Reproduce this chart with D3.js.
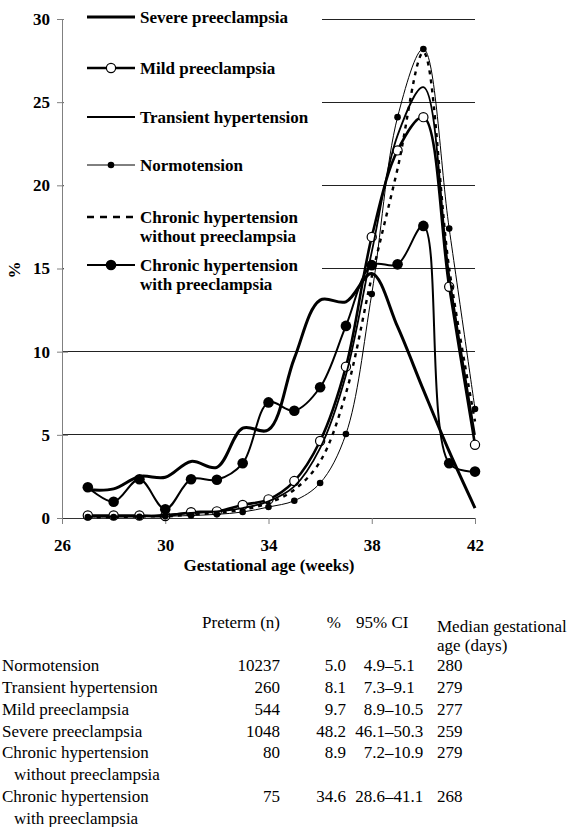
<!DOCTYPE html>
<html>
<head>
<meta charset="utf-8">
<script src="https://cdnjs.cloudflare.com/ajax/libs/d3/7.8.5/d3.min.js"></script>
<style>
	body { margin: 0; background: #fff; }
	svg text { font-family: "Liberation Serif", "Times New Roman", serif; }
</style>
</head>
<body>
<svg id="chart" width="573" height="827"></svg>
<script>
// gestational weeks on the x axis
const weeks = [27, 28, 29, 30, 31, 32, 33, 34, 35, 36, 37, 38, 39, 40, 41, 42];

// % of births per week
const severe = [1.7, 1.75, 2.5, 2.45, 3.4, 3.05, 5.4, 5.3, 9.6, 13.1, 13.0, 14.7, 11.5, 7.7, 4.0, 0.6];
const mild = [0.15, 0.15, 0.15, 0.12, 0.35, 0.4, 0.78, 1.12, 2.22, 4.63, 9.1, 16.9, 22.1, 24.1, 13.9, 4.4];
const transient = [0.1, 0.1, 0.1, 0.2, 0.3, 0.4, 0.6, 1.0, 1.9, 4.2, 8.6, 16.0, 23.0, 25.9, 14.6, 5.0];
const normotension = [0.05, 0.06, 0.07, 0.1, 0.15, 0.22, 0.36, 0.66, 1.04, 2.1, 5.05, 13.47, 24.1, 28.2, 17.4, 6.55];
const chronicWithout = [0.05, 0.05, 0.1, 0.1, 0.2, 0.3, 0.5, 0.9, 1.7, 3.4, 7.5, 14.5, 21.0, 28.0, 15.0, 5.8];
const chronicWith = [1.85, 0.98, 2.33, 0.53, 2.33, 2.3, 3.29, 6.95, 6.45, 7.86, 11.55, 15.2, 15.25, 17.56, 3.29, 2.79];

const xTicks = [26, 30, 34, 38, 42];
const yTicks = [0, 5, 10, 15, 20, 25, 30];

const legendLabels = [
	['Severe preeclampsia'],
	['Mild preeclampsia'],
	['Transient hypertension'],
	['Normotension'],
	['Chronic hypertension', 'without preeclampsia'],
	['Chronic hypertension', 'with preeclampsia']
];

// table under the chart
const tableGroups = [
	['Normotension'],
	['Transient hypertension'],
	['Mild preeclampsia'],
	['Severe preeclampsia'],
	['Chronic hypertension', 'without preeclampsia'],
	['Chronic hypertension', 'with preeclampsia']
];
const pretermN = ['10237', '260', '544', '1048', '80', '75'];
const pretermPct = ['5.0', '8.1', '9.7', '48.2', '8.9', '34.6'];
const ciLow = ['4.9', '7.3', '8.9', '46.1', '7.2', '28.6'];
const ciHigh = ['5.1', '9.1', '10.5', '50.3', '10.9', '41.1'];
const medianDays = ['280', '279', '277', '259', '279', '268'];

const seriesValues = [severe, mild, transient, normotension, chronicWithout, chronicWith];

const FONT = '"Liberation Serif", "Times New Roman", serif';

// line look for each series, same order as above
const styles = [
	{width: 3, dash: null, marker: null},
	{width: 2.6, dash: null, marker: 'open'},
	{width: 1.8, dash: null, marker: null},
	{width: 1, dash: null, marker: 'small'},
	{width: 2.4, dash: '4,5', legendDash: '7,6', marker: null},
	{width: 2, dash: null, marker: 'big'}
];

let svg = d3.select('#chart');

let x = d3.scaleLinear().domain([26, 42]).range([62, 475]);
let y = d3.scaleLinear().domain([0, 30]).range([518, 19]);

// grid
svg.append('g')
	.selectAll('line')
	.data(yTicks.filter(d => d > 0))
	.enter()
	.append('line')
	.attr('x1', x(26))
	.attr('x2', x(42))
	.attr('y1', d => y(d))
	.attr('y2', d => y(d))
	.attr('stroke', '#222')
	.attr('stroke-width', 1)
	.attr('shape-rendering', 'crispEdges')
;

// y axis
let yAxis = svg.append('g')
	.attr('transform', 'translate(' + x(26) + ',0)')
	.call(d3.axisLeft(y).tickValues(yTicks).tickSize(5).tickSizeOuter(0).tickPadding(7))
;
yAxis.select('.domain').attr('stroke', '#808080').attr('shape-rendering', 'crispEdges');
yAxis.selectAll('.tick line').attr('x1', 6).attr('x2', -5).attr('stroke', '#808080');
yAxis.selectAll('.tick text')
	.style('font-size', '17px')
	.style('font-weight', 'bold')
;

// x axis
let xAxis = svg.append('g')
	.attr('transform', 'translate(0,' + y(0) + ')')
	.call(d3.axisBottom(x).tickValues(xTicks).tickSize(6).tickSizeOuter(0).tickPadding(15))
;
xAxis.select('.domain').attr('stroke', '#333').attr('shape-rendering', 'crispEdges');
xAxis.selectAll('.tick line').attr('stroke', '#808080');
xAxis.selectAll('.tick text')
	.style('font-size', '17px')
	.style('font-weight', 'bold')
;

svg.append('text')
	.attr('x', 269)
	.attr('y', 571)
	.attr('text-anchor', 'middle')
	.style('font-size', '17px')
	.style('font-weight', 'bold')
	.text('Gestational age (weeks)')
;

svg.append('text')
	.attr('transform', 'translate(20,270) rotate(-90)')
	.attr('text-anchor', 'middle')
	.style('font-size', '17px')
	.style('font-weight', 'bold')
	.text('%')
;

// series
let line = d3.line()
	.x((d, i) => x(weeks[i]))
	.y(d => y(d))
	.curve(d3.curveCatmullRom.alpha(0.5))
;

let series = svg.append('g')
	.selectAll('g')
	.data(seriesValues)
	.enter()
	.append('g')
;

series.append('path')
	.attr('d', d => line(d))
	.attr('fill', 'none')
	.attr('stroke', '#000')
	.attr('stroke-width', (d, i) => styles[i].width)
	.attr('stroke-dasharray', (d, i) => styles[i].dash)
;

function drawMarker(sel, kind) {
	if(kind == 'open')
	{
		sel.attr('r', 4.6).attr('fill', '#fff').attr('stroke', '#000').attr('stroke-width', 1.2);
	}
	else if(kind == 'small')
	{
		sel.attr('r', 3.3).attr('fill', '#000');
	}
	else
	{
		sel.attr('r', 5.3).attr('fill', '#000');
	}
}

series.each(function(vals, i) {
	if(!styles[i].marker)
	{
		return;
	}
	d3.select(this).selectAll('circle')
		.data(vals)
		.enter()
		.append('circle')
		.attr('cx', (d, j) => x(weeks[j]))
		.attr('cy', d => y(d))
		.call(drawMarker, styles[i].marker)
	;
});

// legend sits on a white box over the grid
let legend = svg.append('g');

legend.append('rect')
	.attr('x', 64)
	.attr('y', 3)
	.attr('width', 258)
	.attr('height', 292)
	.attr('fill', '#fff')
;

const legendY = [17, 68, 117, 165, 217, 265];

let items = legend.selectAll('.item')
	.data(legendLabels)
	.enter()
	.append('g')
	.attr('class', 'item')
	.attr('transform', (d, i) => 'translate(0,' + legendY[i] + ')')
;

items.append('line')
	.attr('x1', 87)
	.attr('x2', 135)
	.attr('stroke', '#000')
	.attr('stroke-width', (d, i) => styles[i].width)
	.attr('stroke-dasharray', (d, i) => styles[i].legendDash || null)
;

items.each(function(d, i) {
	if(styles[i].marker)
	{
		d3.select(this).append('circle')
			.attr('cx', 111)
			.attr('cy', 0)
			.call(drawMarker, styles[i].marker)
		;
	}
});

items.append('text')
	.attr('x', 140)
	.attr('y', 6)
	.style('font-size', '17px')
	.style('font-weight', 'bold')
	.selectAll('tspan')
	.data(d => d)
	.enter()
	.append('tspan')
	.attr('x', 140)
	.attr('dy', (d, j) => j == 0 ? 0 : 19)
	.text(d => d)
;

// table
let table = svg.append('g').style('font-size', '17px');

table.append('text').attr('x', 280).attr('y', 628).attr('text-anchor', 'end').text('Preterm (n)');
table.append('text').attr('x', 341).attr('y', 628).attr('text-anchor', 'end').text('%');
table.append('text').attr('x', 356).attr('y', 628).text('95% CI');
table.append('text').attr('x', 437).attr('y', 632).text('Median gestational');
table.append('text').attr('x', 437).attr('y', 651).text('age (days)');

const rowY = [671, 693, 715, 737, 758, 802];

let rows = table.selectAll('.row')
	.data(tableGroups)
	.enter()
	.append('g')
	.attr('class', 'row')
	.attr('transform', (d, i) => 'translate(0,' + rowY[i] + ')')
;

rows.append('text')
	.selectAll('tspan')
	.data(d => d)
	.enter()
	.append('tspan')
	.attr('x', (d, j) => j == 0 ? 2 : 14)
	.attr('dy', (d, j) => j == 0 ? 0 : 21.5)
	.text(d => d)
;

rows.append('text').attr('x', 280).attr('text-anchor', 'end').text((d, i) => pretermN[i]);
rows.append('text').attr('x', 346).attr('text-anchor', 'end').text((d, i) => pretermPct[i]);
rows.append('text').attr('x', 385).attr('text-anchor', 'end').text((d, i) => ciLow[i]);
rows.append('text').attr('x', 385).text((d, i) => '\u2013' + ciHigh[i]);
rows.append('text').attr('x', 437).text((d, i) => medianDays[i]);

// one serif face for every text, axis groups included
svg.selectAll('g').attr('font-family', null);
svg.selectAll('text')
	.style('font-family', FONT)
	.style('fill', '#000')
;
</script>
</body>
</html>
